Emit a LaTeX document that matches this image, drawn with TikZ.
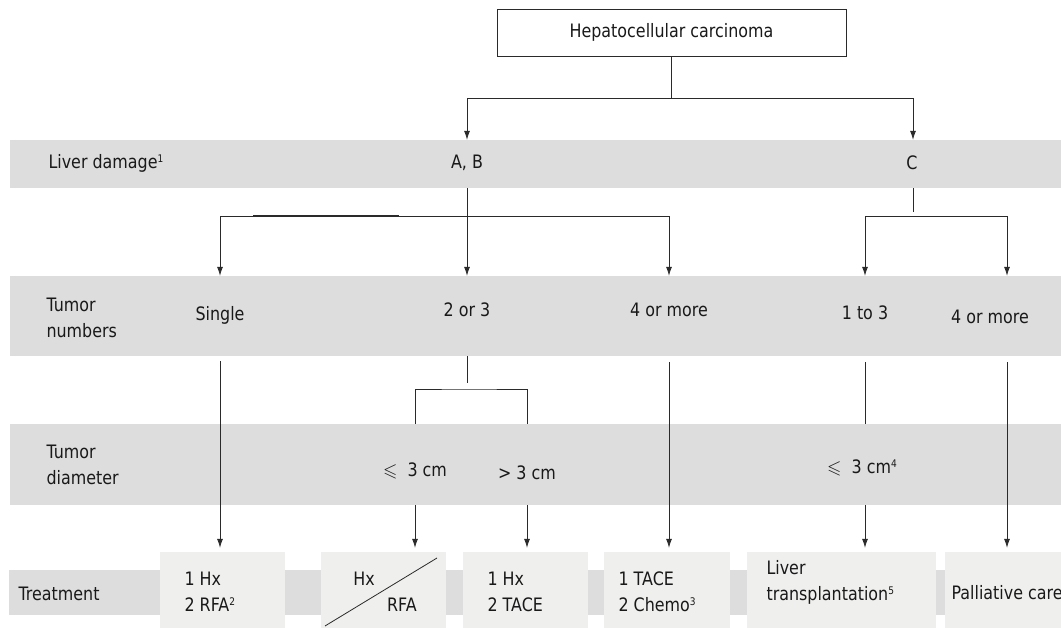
\documentclass[tikz,border=0pt]{standalone}
\usepackage{amssymb}
\usepackage{fontspec}
\setmainfont{DejaVu Sans}[FakeStretch=0.86]
\usetikzlibrary{arrows.meta}
\definecolor{bandgray}{HTML}{DCDDDC}
\definecolor{boxgray}{HTML}{EFEFEE}
\definecolor{linegray}{HTML}{2A2A2A}
\newcommand{\supnum}[1]{\raisebox{6pt}{\fontsize{10.5}{10.5}\selectfont #1}}
\tikzset{
    band/.style={fill=bandgray, inner sep=0pt, minimum width=1060pt},
    treatbox/.style={fill=boxgray, inner sep=0pt, minimum height=80pt},
    topbox/.style={draw=linegray, line width=0.8pt, minimum width=349pt, minimum height=47pt},
    label/.style={align=left, anchor=west},
    link/.style={draw=linegray, line width=0.8pt},
    arr/.style={link, -{Latex[length=9pt, width=6pt]}},
    common settings/.style={
        font=\fontsize{18.5}{26}\selectfont,
        text=black!90,
        x=1pt,
        y=-1pt
    }
}

\begin{document}
\begin{tikzpicture}[common settings]
    \clip (0,0) rectangle (1061,628);

    % Grey bands
    \node[band, minimum height=48pt] (bld) at (540,164) {};
    \node[band, minimum height=80pt] (btn) at (540,316) {};
    \node[band, minimum height=81pt] (btd) at (540,464.5) {};
    \node[band, minimum height=45pt, minimum width=1061pt] (btr) at (539.5,592.5) {};

    % Treatment boxes
    \node[treatbox, minimum width=125pt] (t1) at (222.5,592) {};
    \node[treatbox, minimum width=125pt] (t2) at (383.5,592) {};
    \node[treatbox, minimum width=125pt] (t3) at (525.5,592) {};
    \node[treatbox, minimum width=126pt] (t4) at (667,592) {};
    \node[treatbox, minimum width=189pt] (t5) at (841.5,592) {};
    \node[treatbox, minimum width=124pt] (t6) at (1007,592) {};

    % Top box
    \node[topbox] (hcc) at (671.5,32.5) {Hepatocellular carcinoma};

    % Row labels
    \node[label] (ldlab) at (45,163) {Liver damage\supnum{1}};
    \node[label] (tnlab) at (43,317.5) {Tumor\\numbers};
    \node[label] (tdlab) at (43,465) {Tumor\\diameter};
    \node[label] (trlab) at (15,594) {Treatment};

    % Liver damage
    \node (ab) at (467,163) {A, B};
    \node (c) at (912,163) {C};

    % Tumor numbers
    \node (single) at (220,315) {Single};
    \node (twothree) at (467,310) {2 or 3};
    \node (fourA) at (669,310) {4 or more};
    \node (onethree) at (865,313) {1 to 3};
    \node (fourB) at (990,317) {4 or more};

    % Tumor diameter
    \node (le3) at (415,471) {$\leqslant$~ 3 cm};
    \node (gt3) at (527,473) {> 3 cm};
    \node (le3b) at (862,468) {$\leqslant$~ 3 cm\supnum{4}};

    % Treatment texts
    \node[label] (tx1) at (181,592) {1 Hx\\2 RFA\supnum{2}};
    \node (tx2a) at (364,579) {Hx};
    \node (tx2b) at (402,605) {RFA};
    \node[label] (tx3) at (484,592) {1 Hx\\2 TACE};
    \node[label] (tx4) at (615,592) {1 TACE\\2 Chemo\supnum{3}};
    \node[label] (tx5) at (763,582.5) {Liver\\transplantation\supnum{5}};
    \node[label] (tx6) at (948,593) {Palliative care};
    \draw[link] (325,626) -- (437,558);

    % Connectors
    \coordinate (j1) at (671.5,98);
    \coordinate (j2) at (467,216);
    \coordinate (jc) at (913,216);
    \coordinate (j4) at (467,389);
    \draw[link] (hcc.south) -- (j1);
    \draw[arr] (j1) -| (ab |- bld.north);
    \draw[arr] (j1) -| (jc |- bld.north);

    \draw[arr] (ab |- bld.south) -- (ab |- btn.north);
    \draw[arr] (j2) -| (single |- btn.north);
    \draw[arr] (j2) -| (fourA |- btn.north);
    \draw[line width=1.4pt, linegray] (253,216) -- (399,216);

    \draw[link, shorten >=4pt] (jc |- bld.south) -- (jc);
    \draw[arr] (jc) -| (onethree |- btn.north);
    \draw[arr] (jc) -| (t6.north |- btn.north);

    \draw[arr, shorten <=5pt, shorten >=4pt] (single |- btn.south) -- (single |- t1.north);
    \draw[link, shorten >=6pt] (twothree |- btn.south) -- (j4);
    \draw[link] (le3 |- btd.north) |- (j4) -| (gt3 |- btd.north);
    \draw[arr, shorten >=4pt] (le3 |- btd.south) -- (le3 |- t2.north);
    \draw[arr, shorten >=4pt] (gt3 |- btd.south) -- (gt3 |- t3.north);
    \draw[arr, shorten <=6pt, shorten >=4pt] (fourA |- btn.south) -- (fourA |- t4.north);
    \draw[link, shorten <=6pt] (onethree |- btn.south) -- (onethree |- btd.north);
    \draw[arr, shorten >=4pt] (onethree |- btd.south) -- (onethree |- t5.north);
    \draw[arr, shorten <=6pt, shorten >=4pt] (t6.north |- btn.south) -- (t6.north);
\end{tikzpicture}
\end{document}
